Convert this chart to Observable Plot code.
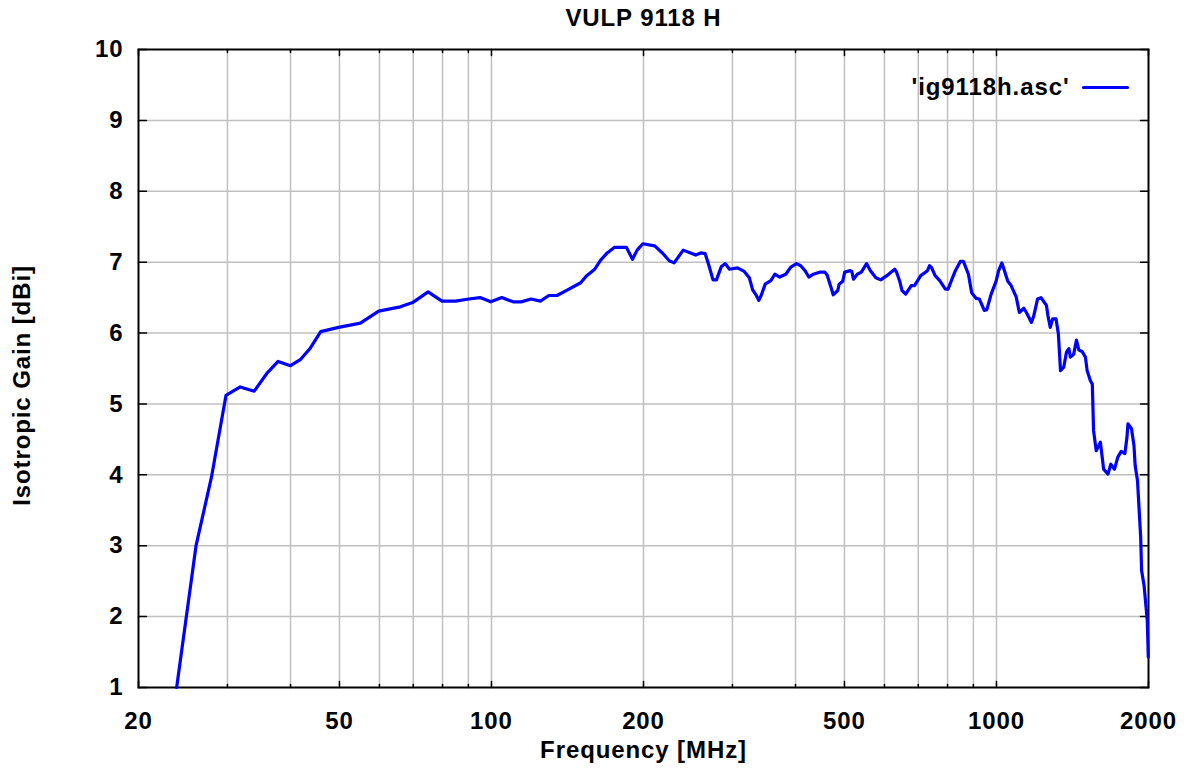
<!DOCTYPE html>
<html>
<head>
<meta charset="utf-8">
<script src="https://cdn.jsdelivr.net/npm/d3@7"></script>
<script src="https://cdn.jsdelivr.net/npm/@observablehq/plot@0.6"></script>
<style>
  html, body { margin: 0; padding: 0; background: white; }
</style>
</head>
<body>
<div id="chart"></div>
<script>
const title = "VULP 9118 H";
const xLabel = "Frequency [MHz]";
const yLabel = "Isotropic Gain [dBi]";
const seriesName = "'ig9118h.asc'";

const xTickLabels = [20, 50, 100, 200, 500, 1000, 2000];
const xMinorTicks = [30, 40, 60, 70, 80, 90, 300, 400, 600, 700, 800, 900];
const xGrid = [30, 40, 50, 60, 70, 80, 90, 100, 200, 300, 400, 500, 600, 700, 800, 900, 1000];
const yTicks = [1, 2, 3, 4, 5, 6, 7, 8, 9, 10];
const yGrid = [2, 3, 4, 5, 6, 7, 8, 9];

const freq = [
  23.8, 26.0, 27.9, 29.8, 31.8, 33.9, 35.9, 37.8, 40.0, 41.9, 43.8, 45.9, 49.8, 55.0, 59.8, 66.0, 69.8, 74.9, 79.8, 84.9,
  90.2, 94.9, 99.7, 104.8, 110.4, 114.4, 119.8, 125, 129.9, 134.8, 141.5, 150.2, 154.4, 160.1, 164.5, 169.5, 175.3, 185.0, 190.2, 194.3,
  199.4, 210.5, 218, 224.9, 230, 239.7, 253.8, 259.6, 265, 269.6, 274.6, 278.9, 285.3, 290.4, 296, 307, 316.6, 324, 329, 334,
  338.4, 342, 348.4, 357.5, 364, 372, 382.6, 391.5, 402, 409.6, 417.7, 425, 434, 447.6, 457, 462, 470, 475, 485, 488,
  496, 500.6, 513.6, 517, 521, 530, 540, 553, 562.8, 577, 590, 606.6, 619, 629, 634, 644, 650, 661, 678, 688,
  708, 730, 737, 743, 756, 772, 792, 802, 829, 848, 860, 880, 893, 911, 925, 946, 957, 976, 998, 1010,
  1025, 1037, 1053, 1069, 1094, 1110, 1133, 1146, 1173, 1185, 1206, 1225, 1256, 1264, 1278, 1292, 1312, 1326, 1339, 1359,
  1376, 1391, 1401, 1422, 1440, 1456, 1478, 1500, 1512, 1534, 1548, 1557, 1576, 1606, 1630, 1663, 1684, 1713, 1739, 1766,
  1796, 1813, 1821, 1851, 1872, 1882, 1902, 1930, 1938, 1960, 1989, 1998
];
const gain = [
  1.0, 3.0, 3.97, 5.12, 5.24, 5.18, 5.43, 5.60, 5.54, 5.63, 5.79, 6.02, 6.08, 6.14, 6.31, 6.37, 6.43, 6.58, 6.45, 6.45,
  6.48, 6.50, 6.44, 6.50, 6.44, 6.44, 6.48, 6.45, 6.53, 6.53, 6.61, 6.71, 6.81, 6.90, 7.03, 7.13, 7.21, 7.21, 7.04, 7.17,
  7.26, 7.23, 7.13, 7.02, 6.99, 7.17, 7.10, 7.13, 7.12, 6.95, 6.75, 6.75, 6.94, 6.98, 6.90, 6.92, 6.87, 6.78, 6.61, 6.54,
  6.46, 6.53, 6.69, 6.74, 6.83, 6.79, 6.83, 6.93, 6.98, 6.95, 6.88, 6.79, 6.83, 6.86, 6.86, 6.82, 6.65, 6.54, 6.60, 6.69,
  6.73, 6.86, 6.88, 6.87, 6.76, 6.83, 6.86, 6.98, 6.88, 6.78, 6.75, 6.81, 6.86, 6.90, 6.86, 6.72, 6.60, 6.55, 6.67, 6.67,
  6.81, 6.88, 6.95, 6.93, 6.81, 6.74, 6.62, 6.62, 6.88, 7.01, 7.01, 6.83, 6.57, 6.49, 6.48, 6.32, 6.33, 6.55, 6.73, 6.88,
  6.99, 6.88, 6.73, 6.67, 6.51, 6.29, 6.35, 6.29, 6.15, 6.24, 6.48, 6.50, 6.39, 6.25, 6.08, 6.20, 6.20, 5.99, 5.47, 5.52,
  5.73, 5.78, 5.66, 5.70, 5.90, 5.76, 5.74, 5.66, 5.47, 5.33, 5.28, 4.62, 4.34, 4.46, 4.08, 4.01, 4.15, 4.08, 4.25, 4.33,
  4.30, 4.53, 4.72, 4.65, 4.41, 4.13, 3.92, 3.12, 2.65, 2.44, 1.94, 1.43
];

const data = freq.map((f, i) => ({f, g: gain[i]}));

const tickShape = {draw(ctx, l) { ctx.moveTo(0, 0); ctx.lineTo(0, -l); }};
const font = "'Liberation Sans', Arial, Helvetica, sans-serif";
const fs = 24;

const chart = Plot.plot({
  width: 1187,
  height: 771,
  marginLeft: 138,
  marginRight: 39,
  marginTop: 49,
  marginBottom: 84,
  style: {fontFamily: font, fontWeight: "bold", fontSize: fs + "px", background: "white", color: "black", letterSpacing: "0.9px"},
  x: {type: "log", domain: [20, 2000]},
  y: {type: "linear", domain: [1, 10]},
  marks: [
    Plot.ruleX(xGrid, {x: d => d, stroke: "#c0c0c0", strokeWidth: 1.5}),
    Plot.ruleY(yGrid, {y: d => d, stroke: "#c0c0c0", strokeWidth: 1.5}),
    // inward ticks
    Plot.vector(xTickLabels, {x: d => d, y: 1, length: 6, rotate: 0, anchor: "start", shape: tickShape, stroke: "black", strokeWidth: 1.5}),
    Plot.vector(xTickLabels, {x: d => d, y: 10, length: 6, rotate: 180, anchor: "start", shape: tickShape, stroke: "black", strokeWidth: 1.5}),
    Plot.vector(xMinorTicks, {x: d => d, y: 1, length: 3, rotate: 0, anchor: "start", shape: tickShape, stroke: "black", strokeWidth: 1.5}),
    Plot.vector(xMinorTicks, {x: d => d, y: 10, length: 3, rotate: 180, anchor: "start", shape: tickShape, stroke: "black", strokeWidth: 1.5}),
    Plot.vector(yTicks, {x: 20, y: d => d, length: 8, rotate: 90, anchor: "start", shape: tickShape, stroke: "black", strokeWidth: 1.5}),
    Plot.vector(yTicks, {x: 2000, y: d => d, length: 8, rotate: -90, anchor: "start", shape: tickShape, stroke: "black", strokeWidth: 1.5}),
    Plot.frame({stroke: "black", strokeWidth: 2}),
    Plot.line(data, {x: "f", y: "g", stroke: "#0000ff", strokeWidth: 3.2, strokeLinejoin: "round"}),
    Plot.axisX(xTickLabels, {anchor: "bottom", tickSize: 0, tickPadding: 24, tickFormat: d => String(d), label: null, fontSize: fs}),
    Plot.axisY(yTicks, {anchor: "left", tickSize: 0, tickPadding: 15, tickFormat: d => String(d), label: null, fontSize: fs}),
    // title & axis labels
    Plot.text([title], {frameAnchor: "top", lineAnchor: "middle", dy: -31, text: d => d, fontSize: fs, fontWeight: "bold"}),
    Plot.text([xLabel], {frameAnchor: "bottom", lineAnchor: "middle", dy: 63, text: d => d, fontSize: fs, fontWeight: "bold"}),
    Plot.text([yLabel], {frameAnchor: "left", lineAnchor: "middle", textAnchor: "middle", rotate: -90, dx: -116, dy: 17, text: d => d, fontSize: fs, fontWeight: "bold"}),
    // legend
    Plot.text([seriesName], {frameAnchor: "top-right", textAnchor: "end", lineAnchor: "middle", dx: -79, dy: 38, text: d => d, fontSize: fs, fontWeight: "bold"}),
    Plot.vector([seriesName], {frameAnchor: "top-right", dx: -65, dy: 38, length: 44, rotate: 90, anchor: "start", shape: tickShape, stroke: "#0000ff", strokeWidth: 3.2})
  ]
});
document.getElementById("chart").appendChild(chart);
</script>
</body>
</html>
